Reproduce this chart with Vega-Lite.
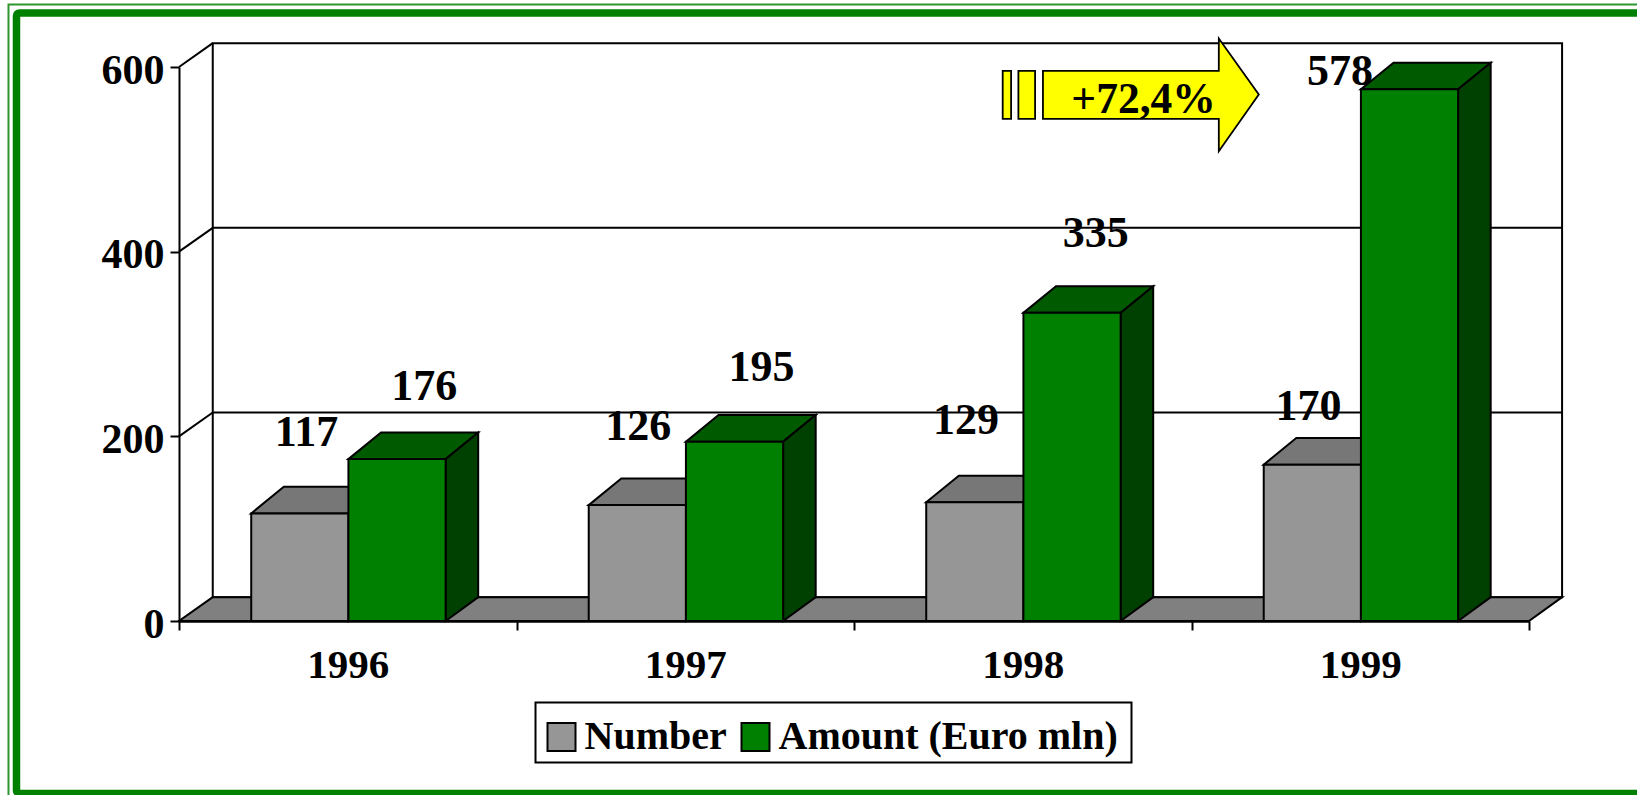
{
"$schema":"https://vega.github.io/schema/vega-lite/v6.json",
"width":1350,"height":554,
"autosize":{"type":"none"},
"padding":{"left":179,"top":67,"right":108,"bottom":174},
"background":"white",
"config":{"view":{"stroke":null},"font":"Liberation Serif"},
"datasets":{
"bars":[
{"year":1996,"series":"Number","value":117},{"year":1997,"series":"Number","value":126},{"year":1998,"series":"Number","value":129},{"year":1999,"series":"Number","value":170},
{"year":1996,"series":"Amount (Euro mln)","value":176},{"year":1997,"series":"Amount (Euro mln)","value":195},{"year":1998,"series":"Amount (Euro mln)","value":335},{"year":1999,"series":"Amount (Euro mln)","value":578}],
"arrowBody":[{"a":1998.0598,"lo":543.9,"hi":595.9},{"a":1998.5809,"lo":543.9,"hi":595.9},{"a":1998.581,"lo":508.8,"hi":630.9},{"a":1998.6994,"lo":570.2,"hi":570.2}],
"arrowTail":[{"a":1997.9406,"b":1997.9655,"lo":543.9,"hi":595.9},{"a":1997.9871,"b":1998.0366,"lo":543.9,"hi":595.9}]
},
"layer":[
{"data":{"values":[{"a":1994.9948,"b":1999.857,"lo":-193.3,"hi":667.7}]},
 "mark":{"type":"rect","filled":false,"stroke":"#2f962f","strokeWidth":2},
 "encoding":{
  "x":{"field":"a","type":"quantitative","scale":{"domain":[1995.5,1999.5],"nice":false,"zero":false},
   "axis":{"title":null,"values":[1995.5,1996,1996.5,1997,1997.5,1998,1998.5,1999,1999.5],"grid":false,"zindex":1,
    "labelExpr":"datum.value % 1 == 0 ? format(datum.value,'d') : ''","labelFont":"Liberation Serif","labelFontSize":41,"labelFontWeight":"bold","labelColor":"black","labelPadding":15,"labelOverlap":false,"labelFlush":false,"labelBound":false,
    "tickColor":"black","tickSize":9,"tickWidth":2,"tickOpacity":{"condition":{"test":"datum.value % 1 != 0","value":1},"value":0},"domainColor":"black","domainWidth":2.5}},
  "x2":{"field":"b"},
  "y":{"field":"lo","type":"quantitative","scale":{"domain":[0,600],"nice":false,"zero":false},
   "axis":{"title":null,"values":[0,200,400,600],"grid":false,"zindex":1,"format":"d","labelFont":"Liberation Serif","labelFontSize":42,"labelFontWeight":"bold","labelColor":"black","labelPadding":6,"labelOffset":3,"labelOverlap":false,"labelBound":false,"tickColor":"black","tickSize":9,"tickWidth":2,"domainColor":"black","domainWidth":2}},
  "y2":{"field":"hi"}}},
{"data":{"values":[{"a":1995.0185,"b":1999.8422,"lo":-186.8,"hi":658.6}]},
 "mark":{"type":"rect","filled":false,"stroke":"#008000","strokeWidth":7.5,"cornerRadius":3},
 "encoding":{
  "x":{"field":"a","type":"quantitative","scale":{"domain":[1995.5,1999.5],"nice":false,"zero":false},"axis":{"title":null}},
  "x2":{"field":"b"},
  "y":{"field":"lo","type":"quantitative","scale":{"domain":[0,600],"nice":false,"zero":false},"axis":{"title":null}},
  "y2":{"field":"hi"}}},
{"data":{"values":[{"a":1995.6,"b":1999.598,"lo":25.8,"hi":625.8}]},
 "mark":{"type":"rect","fill":"white","stroke":"black","strokeWidth":2},
 "encoding":{
  "x":{"field":"a","type":"quantitative","scale":{"domain":[1995.5,1999.5],"nice":false,"zero":false},"axis":{"title":null}},
  "x2":{"field":"b"},
  "y":{"field":"lo","type":"quantitative","scale":{"domain":[0,600],"nice":false,"zero":false},"axis":{"title":null}},
  "y2":{"field":"hi"}}},
{"data":{"values":[{"a":1996.5563,"b":1998.3222,"lo":-153.3,"hi":-88.3}]},
 "mark":{"type":"rect","fill":"white","stroke":"black","strokeWidth":2},
 "encoding":{
  "x":{"field":"a","type":"quantitative","scale":{"domain":[1995.5,1999.5],"nice":false,"zero":false},"axis":{"title":null}},
  "x2":{"field":"b"},
  "y":{"field":"lo","type":"quantitative","scale":{"domain":[0,600],"nice":false,"zero":false},"axis":{"title":null}},
  "y2":{"field":"hi"}}},
{"data":{"values":[{"a":1995.5,"b":1999.5,"v":0},{"a":1995.6,"b":1999.598,"v":25.8}]},
 "mark":{"type":"area","orient":"horizontal","fill":"#808080","stroke":"black","strokeWidth":2},
 "encoding":{
  "x":{"field":"a","type":"quantitative","scale":{"domain":[1995.5,1999.5],"nice":false,"zero":false},"axis":{"title":null}},
  "x2":{"field":"b"},
  "y":{"field":"v","type":"quantitative","scale":{"domain":[0,600],"nice":false,"zero":false},"axis":{"title":null}}}},
{"data":{"values":[{"a":1995.6,"b":1999.598,"lo":225.8,"hi":225.8},{"a":1995.6,"b":1999.598,"lo":425.8,"hi":425.8},{"a":1995.5,"b":1995.6,"lo":200,"hi":225.8},{"a":1995.5,"b":1995.6,"lo":400,"hi":425.8},{"a":1995.5,"b":1995.6,"lo":600,"hi":625.8}]},
 "mark":{"type":"rule","color":"black","strokeWidth":2},
 "encoding":{
  "x":{"field":"a","type":"quantitative","scale":{"domain":[1995.5,1999.5],"nice":false,"zero":false},"axis":{"title":null}},
  "x2":{"field":"b"},
  "y":{"field":"lo","type":"quantitative","scale":{"domain":[0,600],"nice":false,"zero":false},"axis":{"title":null}},
  "y2":{"field":"hi"}}},
{"data":{"name":"bars"},
 "transform":[
  {"calculate":"datum.year + (datum.series=='Number' ? -0.288 : 0) + 0.002","as":"xL"},
  {"calculate":"datum.xL + 0.288","as":"xR"},
  {"calculate":"0","as":"base"},
  {"calculate":"datum.value * 0.9962","as":"h"},
  {"calculate":"datum.year + 0.003 + (datum.series=='Number' ? [-0.1255,-0.142,-0.171,-0.156] : [0.224,0.223,0.213,-0.063])[datum.year-1996]","as":"lx"},
  {"calculate":"datum.value - 2.3 + (datum.series=='Number' ? [89,86,90,64] : [80,81,86,19])[datum.year-1996]","as":"ly"},
  {"calculate":"datum.year + datum.series","as":"bar"}],
 "layer":[
  {"transform":[{"calculate":"[0,1]","as":"d"},{"flatten":["d"]},
    {"calculate":"datum.xL + datum.d*0.0965","as":"tx"},{"calculate":"datum.xR + datum.d*0.0965","as":"tx2"},
    {"calculate":"datum.h + datum.d*28.8","as":"ty"},{"calculate":"datum.d*25.8","as":"by"}],
   "layer":[
    {"mark":{"type":"area","orient":"horizontal","stroke":"black","strokeWidth":2},
     "encoding":{
      "x":{"field":"tx","type":"quantitative","scale":{"domain":[1995.5,1999.5],"nice":false,"zero":false},"axis":{"title":null}},
      "x2":{"field":"tx2"},
      "y":{"field":"ty","type":"quantitative","scale":{"domain":[0,600],"nice":false,"zero":false},"axis":{"title":null}},
      "detail":{"field":"bar","type":"nominal"},
      "fill":{"condition":{"test":"datum.series=='Number'","value":"#777777"},"value":"#005a00"}}},
    {"mark":{"type":"area","orient":"vertical","stroke":"black","strokeWidth":2},
     "encoding":{
      "x":{"field":"tx2","type":"quantitative","scale":{"domain":[1995.5,1999.5],"nice":false,"zero":false},"axis":{"title":null}},
      "y":{"field":"by","type":"quantitative","scale":{"domain":[0,600],"nice":false,"zero":false},"axis":{"title":null}},
      "y2":{"field":"ty"},
      "detail":{"field":"bar","type":"nominal"},
      "fill":{"condition":{"test":"datum.series=='Number'","value":"#666666"},"value":"#004000"}}}]},
  {"mark":{"type":"rect","stroke":"black","strokeWidth":2},
   "encoding":{
    "x":{"field":"xL","type":"quantitative","scale":{"domain":[1995.5,1999.5],"nice":false,"zero":false},"axis":{"title":null}},
    "x2":{"field":"xR"},
    "y":{"field":"base","type":"quantitative","scale":{"domain":[0,600],"nice":false,"zero":false},"axis":{"title":null}},
    "y2":{"field":"h"},
    "fill":{"field":"series","type":"nominal","scale":{"domain":["Number","Amount (Euro mln)"],"range":["#969696","#008000"]},
     "legend":{"title":null,"orient":"none","legendX":362.5,"legendY":650,"direction":"horizontal","columns":2,"symbolType":"square","symbolSize":784,"symbolStrokeColor":"black","symbolStrokeWidth":2,"symbolOpacity":1,"labelFont":"Liberation Serif","labelFontSize":40,"labelFontWeight":"bold","labelColor":"black","labelOffset":3,"labelLimit":500,"columnPadding":8,"padding":0}}}},
  {"mark":{"type":"text","font":"Liberation Serif","fontSize":44,"fontWeight":"bold","color":"black","align":"center","baseline":"middle"},
   "encoding":{
    "x":{"field":"lx","type":"quantitative","scale":{"domain":[1995.5,1999.5],"nice":false,"zero":false},"axis":{"title":null}},
    "y":{"field":"ly","type":"quantitative","scale":{"domain":[0,600],"nice":false,"zero":false},"axis":{"title":null}},
    "text":{"field":"value","type":"quantitative"}}}]},
{"data":{"name":"arrowBody"},
 "mark":{"type":"area","orient":"vertical","fill":"#ffff00","stroke":"black","strokeWidth":1.8},
 "encoding":{
  "x":{"field":"a","type":"quantitative","scale":{"domain":[1995.5,1999.5],"nice":false,"zero":false},"axis":{"title":null}},
  "y":{"field":"lo","type":"quantitative","scale":{"domain":[0,600],"nice":false,"zero":false},"axis":{"title":null}},
  "y2":{"field":"hi"}}},
{"data":{"name":"arrowTail"},
 "mark":{"type":"rect","fill":"#ffff00","stroke":"black","strokeWidth":1.8},
 "encoding":{
  "x":{"field":"a","type":"quantitative","scale":{"domain":[1995.5,1999.5],"nice":false,"zero":false},"axis":{"title":null}},
  "x2":{"field":"b"},
  "y":{"field":"lo","type":"quantitative","scale":{"domain":[0,600],"nice":false,"zero":false},"axis":{"title":null}},
  "y2":{"field":"hi"}}},
{"data":{"values":[{"a":1998.358,"v":564.6,"t":"+72,4%"}]},
 "mark":{"type":"text","font":"Liberation Serif","fontSize":43.5,"fontWeight":"bold","color":"black","align":"center","baseline":"middle"},
 "encoding":{
  "x":{"field":"a","type":"quantitative","scale":{"domain":[1995.5,1999.5],"nice":false,"zero":false},"axis":{"title":null}},
  "y":{"field":"v","type":"quantitative","scale":{"domain":[0,600],"nice":false,"zero":false},"axis":{"title":null}},
  "text":{"field":"t","type":"nominal"}}}
]
}
